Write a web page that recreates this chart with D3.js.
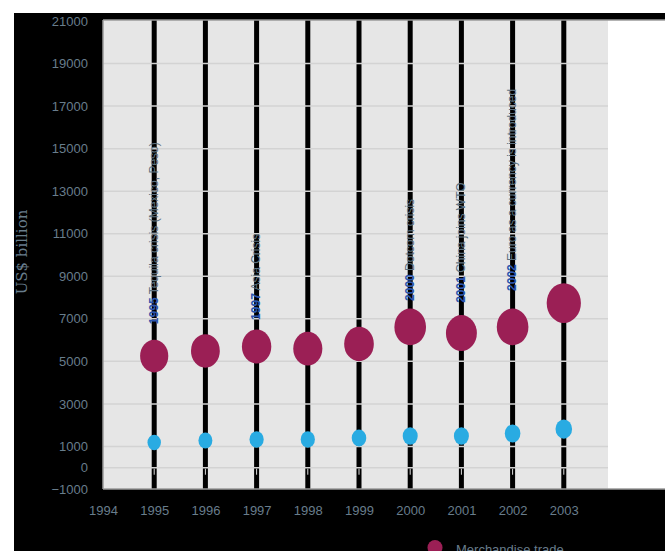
<!DOCTYPE html>
<html lang="en">
<head>
<meta charset="utf-8">
<title>World trade 1995-2003</title>
<style>
  body{
    margin: 0;
    padding: 0;
    background: #fff;
    overflow: hidden;
  }
  svg{
    display: block;
  }
  .tick-label{
    font-family: 'Liberation Sans', Arial, sans-serif;
    font-size: 13px;
    fill: #687d8c;
  }
  .y-title{
    font-family: 'DejaVu Serif', Georgia, serif;
    font-size: 15px;
    fill: #687d8c;
  }
  .event{
    font-family: 'Liberation Sans', Arial, sans-serif;
    font-size: 12px;
    fill: #5d717f;
  }
  .event .yr{
    font-weight: bold;
    fill: #2b55ad;
  }
  .legend text{
    font-family: 'Liberation Sans', Arial, sans-serif;
    font-size: 13px;
    fill: #687d8c;
  }
</style>
</head>
<body>
<svg id="chart" width="665" height="551"></svg>
<script src="https://cdnjs.cloudflare.com/ajax/libs/d3/7.8.5/d3.min.js"></script>
<script>
  // values (US$ billion)
  var years = [1995, 1996, 1997, 1998, 1999, 2000, 2001, 2002, 2003];
  var merchandise = [5250, 5490, 5700, 5600, 5820, 6620, 6330, 6620, 7740];
  var services = [1190, 1280, 1330, 1330, 1400, 1490, 1490, 1610, 1820];

  var seriesNames = ['Merchandise trade', 'Commercial services'];
  var seriesColors = ['#9b1f55', '#29abe2'];

  var xTicks = [1994, 1995, 1996, 1997, 1998, 1999, 2000, 2001, 2002, 2003];
  var yTicks = [-1000, 0, 1000, 3000, 5000, 7000, 9000, 11000, 13000, 15000, 17000, 19000, 21000];

  // events written along the year lines, starting at a value just above the bubble
  var eventYears = [1995, 1997, 2000, 2001, 2002];
  var eventLabels = ['Tequila crisis (Mexico, Peso)', 'Asia Crisis', 'Dotcom crisis', 'China joins WTO', 'Euro as a currency is introduced'];
  var eventStart = [6750, 6950, 7840, 7750, 8310];

  function draw() {
    var svg = d3.select('#chart'),
      pLeft = 103, pRight = 665, pTop = 20, pBottom = 489,
      greyRight = 608;

    var x = d3.scaleLinear().domain([1994, 2004]).range([pLeft, pLeft + 512]);
    var y = d3.scaleLinear().domain([-1000, 21000]).range([pBottom, pTop + 1]);
    var size = d3.scaleSqrt().domain([0, 8000]).range([0, 17.4]);

    // black frame behind everything
    svg.append('rect')
      .attr('x', 14).attr('y', 13)
      .attr('width', 665 - 14).attr('height', 551 - 13)
      .attr('fill', '#000');

    // plot area
    svg.append('rect')
      .attr('x', pLeft).attr('y', pTop)
      .attr('width', pRight - pLeft).attr('height', pBottom - pTop)
      .attr('fill', '#fff');
    svg.append('rect')
      .attr('x', pLeft).attr('y', pTop)
      .attr('width', greyRight - pLeft).attr('height', pBottom - pTop)
      .attr('fill', '#e6e6e6');

    // thick black year lines
    svg.append('g').selectAll('line')
      .data(years)
      .enter().append('line')
      .attr('x1', function (d) { return x(d); })
      .attr('x2', function (d) { return x(d); })
      .attr('y1', pTop)
      .attr('y2', pBottom)
      .attr('stroke', '#000')
      .attr('stroke-width', 5);

    // small marks at the foot of each line
    svg.append('g').selectAll('line')
      .data(years)
      .enter().append('line')
      .attr('x1', function (d) { return x(d); })
      .attr('x2', function (d) { return x(d); })
      .attr('y1', y(0) + 1)
      .attr('y2', y(0) + 7)
      .attr('stroke', '#ddd')
      .attr('stroke-width', 1);

    // horizontal grid, on top of the black lines
    svg.append('g').selectAll('line')
      .data(yTicks.filter(function (d) { return d > -1000 && d < 21000; }))
      .enter().append('line')
      .attr('x1', pLeft)
      .attr('x2', greyRight)
      .attr('y1', function (d) { return y(d); })
      .attr('y2', function (d) { return y(d); })
      .attr('stroke', '#d3d3d3')
      .attr('stroke-width', 1.5);

    // frame lines
    svg.append('line')
      .attr('x1', pLeft).attr('x2', pRight)
      .attr('y1', pTop).attr('y2', pTop)
      .attr('stroke', '#9a9a9a').attr('stroke-width', 1.5);
    svg.append('line')
      .attr('x1', pLeft).attr('x2', pRight)
      .attr('y1', pBottom).attr('y2', pBottom)
      .attr('stroke', '#9a9a9a').attr('stroke-width', 1.5);
    svg.append('line')
      .attr('x1', pLeft).attr('x2', pLeft)
      .attr('y1', pTop).attr('y2', pBottom)
      .attr('stroke', '#9a9a9a').attr('stroke-width', 1.5);

    // axes
    var yAxis = d3.axisLeft(y).tickValues(yTicks).tickFormat(d3.format('d')).tickSize(0).tickPadding(15);
    var gy = svg.append('g').attr('transform', 'translate(' + pLeft + ',0)').call(yAxis);
    gy.select('.domain').remove();
    gy.selectAll('text').attr('class', 'tick-label').attr('font-family', null).attr('font-size', null).attr('fill', null);

    var xAxis = d3.axisBottom(x).tickValues(xTicks).tickFormat(d3.format('d')).tickSize(0).tickPadding(17);
    var gx = svg.append('g').attr('transform', 'translate(0,' + pBottom + ')').call(xAxis);
    gx.select('.domain').remove();
    gx.selectAll('text').attr('class', 'tick-label').attr('font-family', null).attr('font-size', null).attr('fill', null);
    gy.attr('font-family', null).attr('font-size', null);
    gx.attr('font-family', null).attr('font-size', null);

    svg.append('text')
      .attr('class', 'y-title')
      .attr('transform', 'translate(27,252) rotate(-90)')
      .attr('text-anchor', 'middle')
      .text('US$ billion');

    // event texts
    var ev = svg.append('g').selectAll('text')
      .data(eventYears)
      .enter().append('text')
      .attr('class', 'event')
      .attr('transform', function (d, i) {
        return 'translate(' + (x(d) - 0.5) + ',' + y(eventStart[i]) + ') rotate(-90)';
      })
      .attr('dominant-baseline', 'central');
    ev.append('tspan').attr('class', 'yr').text(function (d) { return d; });
    ev.append('tspan').text(function (d, i) { return ' ' + eventLabels[i]; });

    // bubbles
    [merchandise, services].forEach(function (vals, s) {
      svg.append('g').selectAll('ellipse')
        .data(vals)
        .enter().append('ellipse')
        .attr('cx', function (d, i) { return x(years[i]); })
        .attr('cy', function (d) { return y(d); })
        .attr('rx', function (d) { return size(d); })
        .attr('ry', function (d) { return size(d) * 1.16; })
        .attr('fill', seriesColors[s]);
    });

    // legend (runs off the bottom of the page, only the first row shows)
    var legend = svg.append('g').attr('class', 'legend')
      .selectAll('g')
      .data(seriesNames.slice(0, 1))
      .enter().append('g')
      .attr('transform', function (d, i) { return 'translate(435,' + (547.5 + i * 24) + ')'; });
    legend.append('circle')
      .attr('r', 7.5)
      .attr('fill', function (d, i) { return seriesColors[i]; });
    legend.append('text')
      .attr('x', 21)
      .attr('y', 6)
      .text(function (d) { return d; });
  }

  draw();
</script>
</body>
</html>
